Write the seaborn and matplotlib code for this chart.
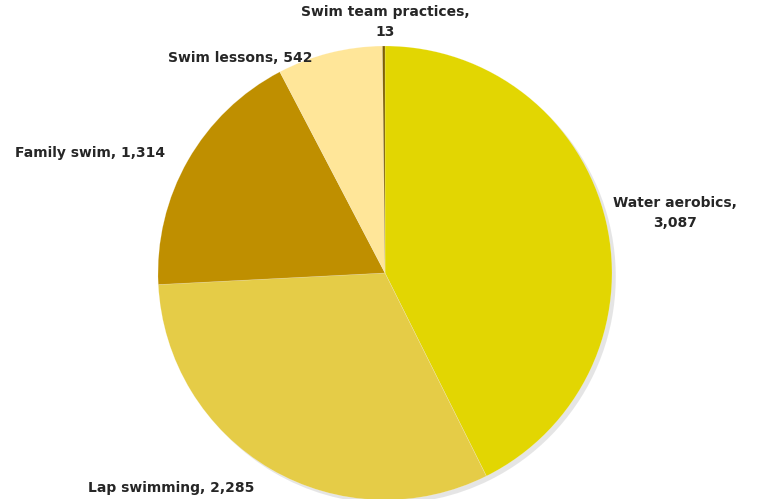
import matplotlib
matplotlib.use("Agg")
import matplotlib.pyplot as plt
import seaborn as sns

sns.set_style("white")
plt.rcParams['font.family'] = ['DejaVu Sans']

categories = ['Water aerobics', 'Lap swimming', 'Family swim', 'Swim lessons', 'Swim team practices']
values = [3087, 2285, 1314, 542, 13]
label_text = ['Water aerobics,\n3,087', 'Lap swimming, 2,285', 'Family swim, 1,314',
              'Swim lessons, 542', 'Swim team practices,\n13']

colors = sns.color_palette(['#E2D602', '#E5CC47', '#BF8F00', '#FFE699', '#7F6000'])
# label positions (pie radius = 1)
label_pos = [(1.278, 0.264), (-0.943, -0.947), (-1.300, 0.529), (-0.639, 0.947), (0.0, 1.106)]

fig = plt.figure(figsize=(7.62, 4.99), dpi=100)
ax = fig.add_axes([0, 0, 1, 1])
ax.pie(values, colors=colors, startangle=90, counterclock=False, radius=1,
       wedgeprops={'linewidth': 0.4, 'edgecolor': (1, 1, 1, 0.3)},
       shadow={'ox': 0.012, 'oy': -0.012, 'facecolor': '#8c8c8c',
               'edgecolor': 'none', 'alpha': 0.22})
for (x, y), t in zip(label_pos, label_text):
    ax.text(x, y, t, ha='center', va='center', fontsize=10, fontweight='bold',
            color='#262626', linespacing=1.5)
ax.set_aspect('auto')
ax.set_xlim(-385 / 227, (762 - 385) / 227)
ax.set_ylim((273 - 499) / 227, 273 / 227)
ax.axis('off')
fig.savefig('out.png', dpi=100)
